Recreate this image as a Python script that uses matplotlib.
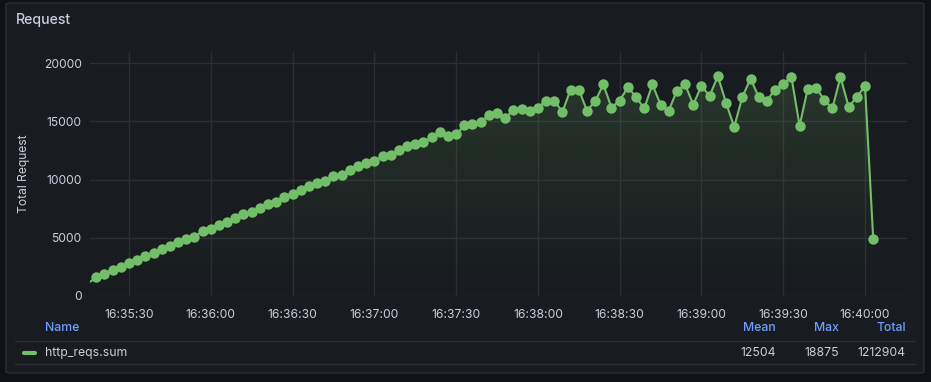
import datetime as dt
import numpy as np
import matplotlib
matplotlib.use("Agg")
import matplotlib.pyplot as plt
import matplotlib.dates as mdates
from matplotlib.patches import FancyBboxPatch, Polygon
from matplotlib.lines import Line2D

# ---- data ----
start_time = dt.datetime(2024, 1, 1, 16, 35, 15)
step_seconds = 3
requests = [
    1100, 1600, 1860, 2230, 2460, 2800, 3060, 3430, 3660, 4030,
    4290, 4630, 4890, 5090, 5550, 5770, 6060, 6350, 6660, 7030,
    7200, 7520, 7860, 8090, 8520, 8750, 9090, 9430, 9720, 9890,
    10290, 10350, 10810, 11150, 11430, 11580, 12010, 12070, 12520, 12860,
    13040, 13210, 13610, 14040, 13780, 13870, 14640, 14780, 14980, 15500,
    15750, 15270, 16010, 16050, 15890, 16180, 16780, 16780, 15810, 17730,
    17730, 15920, 16720, 18160, 16180, 16780, 17920, 17090, 16100, 18160,
    16440, 15920, 17640, 18160, 16440, 18040, 17180, 18875, 16610, 14520,
    17090, 18670, 17090, 16780, 17730, 18240, 18810, 14610, 17810, 17870,
    16870, 16100, 18810, 16240, 17090, 18040, 4920,
]
y_ticks = [0, 5000, 10000, 15000, 20000]
x_tick_labels = ["16:35:30", "16:36:00", "16:36:30", "16:37:00", "16:37:30",
                 "16:38:00", "16:38:30", "16:39:00", "16:39:30", "16:40:00"]
series_name = "http_reqs.sum"
legend_cols = ["Mean", "Max", "Total"]
legend_vals = ["12504", "18875", "1212904"]

# ---- style ----
W, H = 931, 382
PAGE_BG = "#111217"
PANEL_BG = "#181b1f"
BORDER = "#2b2e33"
TEXT = "#ccccdc"
GRID = "#2b2e33"
GREEN = "#73bf69"
BLUE = "#6e9fff"
plt.rcParams["font.family"] = ["Inter", "DejaVu Sans"]


def fx(px):
    return px / W


def fy(py):
    return 1 - py / H


times = [start_time + dt.timedelta(seconds=step_seconds * i) for i in range(len(requests))]
t_num = mdates.date2num(times)
vals = np.array(requests, dtype=float)

fig = plt.figure(figsize=(W / 100, H / 100), dpi=100, facecolor=PAGE_BG)

panel = FancyBboxPatch((fx(6), fy(373)), fx(924) - fx(6), fy(3) - fy(373),
                       boxstyle="round,pad=0,rounding_size=0.004",
                       transform=fig.transFigure, facecolor=PANEL_BG,
                       edgecolor=BORDER, linewidth=1, zorder=-5)
fig.patches.append(panel)

fig.text(fx(16), fy(20), "Request", color=TEXT, fontsize=10.2,
         fontweight="medium", ha="left", va="center")

ax = fig.add_axes([fx(90), fy(296), fx(907) - fx(90), fy(52) - fy(296)])
ax.set_facecolor("none")
for s in ax.spines.values():
    s.set_visible(False)

x0 = mdates.date2num(start_time + dt.timedelta(seconds=0.7))
x1 = mdates.date2num(start_time + dt.timedelta(seconds=300.4))
ymax = 20950

# gradient fill under the line
grad = np.linspace(0.0, 1.0, 256)
rgba = np.zeros((256, 1, 4))
rgba[..., 0], rgba[..., 1], rgba[..., 2] = 0x73 / 255, 0xbf / 255, 0x69 / 255
rgba[:, 0, 3] = 0.2 * grad ** 1.2
im = ax.imshow(rgba, aspect="auto", origin="lower",
               extent=[t_num[0], t_num[-1], 0, ymax], zorder=1)
poly = Polygon(np.column_stack([np.r_[t_num[0], t_num, t_num[-1]],
                                np.r_[0, vals, 0]]),
               closed=True, facecolor="none", edgecolor="none")
ax.add_patch(poly)
im.set_clip_path(poly)

# line through all points, markers only for points inside the time range
ax.plot(t_num, vals, color=GREEN, linewidth=1.5, zorder=3)
vis = (t_num >= x0) & (t_num <= x1)
ax.plot(t_num[vis], vals[vis], linestyle="none", color=GREEN, marker="o",
        markersize=7.5, markeredgewidth=0, zorder=4)
ax.set_xlim(x0, x1)
ax.set_ylim(0, ymax)

ax.set_yticks(y_ticks)
ax.set_yticklabels([str(v) for v in y_ticks])
tick_times = [dt.datetime.combine(start_time.date(), dt.datetime.strptime(s, "%H:%M:%S").time())
              for s in x_tick_labels]
ax.set_xticks(mdates.date2num(tick_times))
ax.set_xticklabels(x_tick_labels)
ax.tick_params(length=0, colors=TEXT, labelsize=8.7, pad=6)
ax.tick_params(axis="x", pad=9)
ax.grid(True, color=GRID, linewidth=1)
ax.set_axisbelow(True)
ax.set_ylabel("Total Request", color=TEXT, fontsize=8.7, labelpad=10)

# legend table
fig.text(fx(45), fy(328), "Name", color=BLUE, fontsize=8.8, fontweight="medium",
         ha="left", va="center")
col_right = [776, 839, 906]
for name, val, xr in zip(legend_cols, legend_vals, col_right):
    fig.text(fx(xr), fy(328), name, color=BLUE, fontsize=8.8, fontweight="medium",
             ha="right", va="center")
    fig.text(fx(xr), fy(353), val, color=TEXT, fontsize=8.8, ha="right", va="center")
for yl in (341, 364):
    fig.add_artist(Line2D([fx(15), fx(915)], [fy(yl), fy(yl)], color="#2a2d32",
                          linewidth=1, transform=fig.transFigure))
fig.add_artist(Line2D([fx(24), fx(35)], [fy(353), fy(353)], color=GREEN,
                      linewidth=3, solid_capstyle="round", transform=fig.transFigure))
fig.text(fx(45), fy(353), series_name, color=TEXT, fontsize=8.8, ha="left", va="center")

fig.savefig("out.png", dpi=100, facecolor=PAGE_BG)
